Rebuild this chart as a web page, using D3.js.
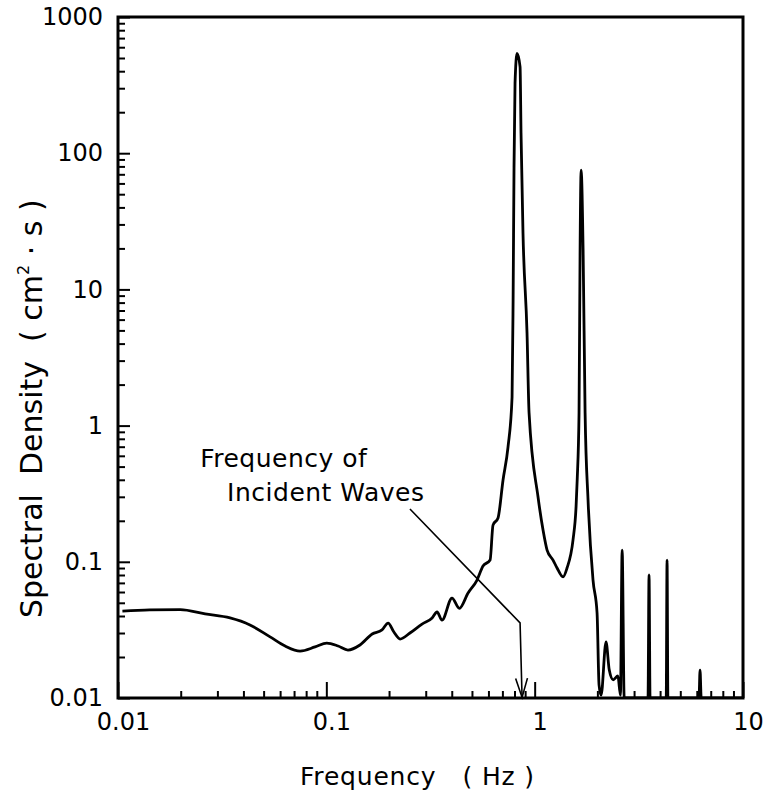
<!DOCTYPE html>
<html>
<head>
<meta charset="utf-8">
<script src="https://cdn.jsdelivr.net/npm/d3@7"></script>
<style>
  body { margin: 0; background: #fff; }
  svg { display: block; }
  text { font-family: "DejaVu Sans", sans-serif; fill: #000; }
</style>
</head>
<body>
<div class="container"></div>
<script>
// spectrum (Hz, cm^2·s)
const freq = [
  0.0105, 0.0142, 0.0199, 0.0262, 0.0345, 0.043, 0.0537, 0.0634, 0.0748, 0.0883,
  0.1005, 0.1138, 0.127, 0.145, 0.166, 0.185, 0.198, 0.211, 0.226, 0.252,
  0.288, 0.322, 0.34, 0.359, 0.401, 0.435, 0.479, 0.529, 0.565, 0.611,
  0.631, 0.667, 0.705, 0.745, 0.779, 0.788, 0.796, 0.805, 0.823, 0.851,
  0.86, 0.879, 0.919, 0.94, 1.038, 1.097, 1.147, 1.225, 1.281, 1.368,
  1.43, 1.528, 1.58, 1.6, 1.633, 1.652, 1.671, 1.708, 1.746, 1.804,
  1.906, 1.993, 2.037, 2.084, 2.2, 2.28, 2.38, 2.51, 2.58, 2.63,
  2.69, 3.5, 3.54, 3.58, 4.28, 4.32, 4.36, 6.15, 6.22, 6.3, 9.95
];
const density = [
  0.0435, 0.0443, 0.0445, 0.0414, 0.0387, 0.0344, 0.0281, 0.0241, 0.0221, 0.0237,
  0.0253, 0.0241, 0.0225, 0.0245, 0.0295, 0.0316, 0.0355, 0.0305, 0.0271, 0.03,
  0.0349, 0.0387, 0.0428, 0.0373, 0.0542, 0.0455, 0.059, 0.0735, 0.093, 0.103,
  0.186, 0.21, 0.399, 0.697, 1.62, 8.36, 79, 327, 540, 430,
  141, 25.9, 4.79, 1.24, 0.299, 0.171, 0.122, 0.103, 0.09, 0.0774,
  0.09, 0.145, 0.253, 0.399, 1.24, 19.5, 75, 19.5, 1.24, 0.284,
  0.0735, 0.0421, 0.0125, 0.0105, 0.0258, 0.0161, 0.0136, 0.0145, 0.0105, 0.122,
  0.01, 0.01, 0.08, 0.01, 0.01, 0.103, 0.01, 0.01, 0.016, 0.01, 0.01
];

const xTicks = [0.01, 0.1, 1, 10];
const xTickLabels = ["0.01", "0.1", "1", "10"];
const yTicks = [0.01, 0.1, 1, 10, 100, 1000];
const yTickLabels = ["0.01", "0.1", "1", "10", "100", "1000"];

// annotation "Frequency of Incident Waves": leader line and text anchors (Hz, cm^2·s)
const leaderFreq = [0.252, 0.851, 0.87];
const leaderDens = [0.244, 0.0356, 0.0101];
const noteLines = ["Frequency of", "Incident Waves"];
const noteFreq = [0.0248, 0.0334];
const noteDens = [0.497, 0.279];

const W = 764, H = 798;
const margin = { top: 17, right: 21, bottom: 100, left: 118 };
const width = W - margin.left - margin.right;
const height = H - margin.top - margin.bottom;

const x = d3.scaleLog().domain([0.01, 10]).range([0, width]);
const y = d3.scaleLog().domain([0.01, 1000]).range([height, 0]);

const svg = d3.select(".container").append("svg")
  .attr("width", W)
  .attr("height", H);

const g = svg.append("g")
  .attr("transform", `translate(${margin.left},${margin.top})`);

g.append("clipPath").attr("id", "plot-clip")
  .append("rect").attr("width", width).attr("height", height);

// minor log ticks (2..9 of each decade), pointing inward
const minorX = x.ticks().filter((d) => !xTicks.some((t) => Math.abs(t - d) < 1e-9));
const minorY = y.ticks().filter((d) => !yTicks.some((t) => Math.abs(t - d) < 1e-9));

function styleAxis(sel) {
  sel.select(".domain").remove();
  sel.selectAll(".tick line").attr("stroke", "#000").attr("stroke-width", 2);
  sel.selectAll(".tick text").attr("font-family", "DejaVu Sans").attr("font-size", 24).attr("fill", "#000");
}

g.append("g")
  .call(d3.axisLeft(y).tickValues(minorY).tickSize(-7).tickSizeOuter(0).tickFormat(""))
  .call(styleAxis);

g.append("g")
  .call(d3.axisLeft(y).tickValues(yTicks).tickSize(-12).tickSizeOuter(0).tickPadding(15)
    .tickFormat((d, i) => yTickLabels[i]))
  .call(styleAxis);

g.append("g")
  .attr("transform", `translate(0,${height})`)
  .call(d3.axisBottom(x).tickValues(minorX).tickSize(-7).tickSizeOuter(0).tickFormat(""))
  .call(styleAxis);

g.append("g")
  .attr("transform", `translate(0,${height})`)
  .call(d3.axisBottom(x).tickValues(xTicks).tickSize(-16).tickSizeOuter(0).tickPadding(15)
    .tickFormat((d, i) => xTickLabels[i]))
  .call(styleAxis)
  .call((ax) => ax.selectAll(".tick text").attr("dx", 5));

// frame
g.append("rect")
  .attr("width", width)
  .attr("height", height)
  .attr("fill", "none")
  .attr("stroke", "#000")
  .attr("stroke-width", 3);

// spectrum
const points = freq.map((f, i) => [f, density[i]]);
const line = d3.line()
  .curve(d3.curveMonotoneX)
  .x((d) => x(d[0]))
  .y((d) => y(Math.max(d[1], 0.01)));

g.append("path")
  .datum(points)
  .attr("clip-path", "url(#plot-clip)")
  .attr("fill", "none")
  .attr("stroke", "#000")
  .attr("stroke-width", 2.8)
  .attr("stroke-linejoin", "round")
  .attr("d", line);

// annotation
const leader = leaderFreq.map((f, i) => [x(f), y(leaderDens[i])]);
g.append("path")
  .attr("fill", "none")
  .attr("stroke", "#000")
  .attr("stroke-width", 1.6)
  .attr("d", d3.line()(leader));

const tip = leader[leader.length - 1];
const prev = leader[leader.length - 2];
const ang = Math.atan2(tip[1] - prev[1], tip[0] - prev[0]);
const arm = 20, spread = 0.3;
g.append("path")
  .attr("fill", "none")
  .attr("stroke", "#000")
  .attr("stroke-width", 1.6)
  .attr("d", d3.line()([
    [tip[0] - arm * Math.cos(ang - spread), tip[1] - arm * Math.sin(ang - spread)],
    tip,
    [tip[0] - arm * Math.cos(ang + spread), tip[1] - arm * Math.sin(ang + spread)]
  ]));

g.selectAll(".note")
  .data(noteLines)
  .join("text")
  .attr("class", "note")
  .attr("x", (d, i) => x(noteFreq[i]))
  .attr("y", (d, i) => y(noteDens[i]))
  .attr("font-size", 25)
  .attr("letter-spacing", 0.5)
  .text((d) => d);

// axis titles
svg.append("text")
  .attr("x", margin.left + x(0.01) + 182)
  .attr("y", 785)
  .attr("font-size", 25)
  .attr("letter-spacing", 0.8)
  .style("white-space", "pre")
  .text("Frequency   ( Hz )");

const yTitle = svg.append("text")
  .attr("transform", "translate(42,618) rotate(-90)")
  .attr("font-size", 30)
  .style("white-space", "pre");
yTitle.append("tspan").text("Spectral  Density  ( cm");
yTitle.append("tspan").attr("font-size", 16).attr("dy", -13).text("2");
yTitle.append("tspan").attr("dy", 13).text(" · s )");
</script>
</body>
</html>
